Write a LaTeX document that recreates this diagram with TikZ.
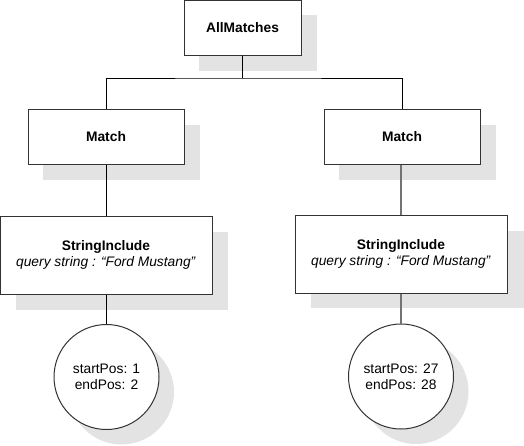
\documentclass[tikz,border=0pt]{standalone}
\usepackage{fontspec}
\setmainfont{Liberation Sans}
\begin{document}
\begin{tikzpicture}[x=1pt,y=-1pt,
  every node/.style={font=\fontsize{13.8}{16}\selectfont},
  shadowfill/.style={fill=black!11,draw=none},
  boxnode/.style={draw=black!80,line width=1pt,fill=white,inner sep=0pt,align=center},
  circnode/.style={draw=black!80,line width=1pt,fill=white,circle,inner sep=0pt,minimum size=105pt,align=center},
  conn/.style={draw=black,line width=1pt},
  grayconn/.style={draw=black!55,line width=1.8pt}]
\useasboundingbox (0,0) rectangle (524,445);
% shadows
\fill[shadowfill] (199,15) rectangle (317,71);
\fill[shadowfill] (43,125) rectangle (200,180);
\fill[shadowfill] (339,125) rectangle (496,180);
\fill[shadowfill] (16,232) rectangle (228,310);
\fill[shadowfill] (311,231) rectangle (524,308);
\fill[shadowfill] (121.5,392) circle (52.5);
\fill[shadowfill] (416,391.5) circle (52.5);
% nodes
\node[boxnode,minimum width=117pt,minimum height=55pt] (all) at (242.5,27.5) {\textbf{AllMatches}};
\node[boxnode,minimum width=156pt,minimum height=55pt] (m1) at (106,136.5) {\textbf{Match}};
\node[boxnode,minimum width=156pt,minimum height=55pt] (m2) at (402,136.5) {\textbf{Match}};
\node[boxnode,minimum width=212pt,minimum height=78pt] (s1) at (106,255) {\textbf{StringInclude}\\\textit{query string : “Ford Mustang”}};
\node[boxnode,minimum width=212pt,minimum height=78pt] (s2) at (401,254) {\textbf{StringInclude}\\\textit{query string : “Ford Mustang”}};
\node[circnode] (c1) at (106.5,377) {startPos: 1\\endPos: 2};
\node[circnode] (c2) at (401,376.5) {startPos: 27\\endPos: 28};
% connectors
\coordinate (j) at (242.5,78);
\draw[conn] (all.south) -- (j);
\draw[conn] (m1.north) |- (j) -| (m2.north);
\draw[conn] (m1.south) -- (s1.north);
\draw[grayconn] (m2.south -| s2.north) -- (s2.north);
\draw[conn] (s1.south -| c1.north) -- (c1.north);
\draw[grayconn] (s2.south) -- (c2.north);
\end{tikzpicture}
\end{document}
